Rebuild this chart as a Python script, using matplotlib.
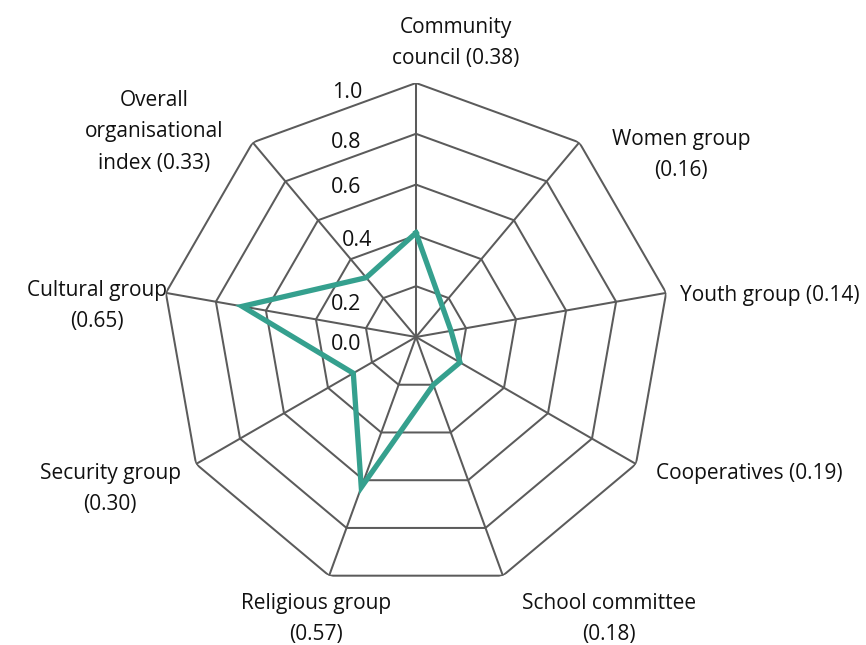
import numpy as np
import matplotlib
matplotlib.use("Agg")
import matplotlib.pyplot as plt

# ---------------- data ----------------
categories = ["Community\ncouncil (0.38)", "Women group\n(0.16)", "Youth group (0.14)",
              "Cooperatives (0.19)", "School committee\n(0.18)", "Religious group\n(0.57)",
              "Security group\n(0.30)", "Cultural group\n(0.65)",
              "Overall\norganisational\nindex (0.33)"]
# values as drawn in the picture
values = [0.41, 0.16, 0.14, 0.20, 0.20, 0.63, 0.285, 0.695, 0.305]
tick_values = [0.0, 0.2, 0.4, 0.6, 0.8, 1.0]
tick_labels = ["0.0", "0.2", "0.4", "0.6", "0.8", "1.0"]

# ---------------- layout ----------------
W, H = 866, 645
cx, cy, R = 416, 337, 254
plt.rcParams['font.family'] = ['Open Sans', 'DejaVu Sans']

fig = plt.figure(figsize=(W / 100, H / 100), dpi=100)
ax = fig.add_axes([(cx - R) / W, (H - cy - R) / H, 2 * R / W, 2 * R / H], projection='polar')
ax.set_theta_zero_location('N')
ax.set_theta_direction(-1)
ax.set_ylim(0, 1)
ax.grid(False)
ax.set_xticks([])
ax.set_yticks([])
ax.spines['polar'].set_visible(False)
ax.patch.set_alpha(0)

n = len(categories)
theta = np.arange(n) * 2 * np.pi / n
theta_c = np.append(theta, theta[0])

grid_col = '#5b5b5b'
for lvl in tick_values[1:]:
    ax.plot(theta_c, [lvl] * (n + 1), color=grid_col, lw=1.45, zorder=1)
for t in theta:
    ax.plot([t, t], [0, 1], color=grid_col, lw=1.45, zorder=1)

vals_c = values + values[:1]
ax.plot(theta_c, vals_c, color='#35a08e', lw=3.8, zorder=3, solid_joinstyle='miter')

# radial tick labels (pixel layout)
tick_px = [(346, 344), (346, 305), (357, 241), (346, 188), (346, 143), (347, 92)]
for lab, (px, py) in zip(tick_labels, tick_px):
    fig.text(px / W, 1 - py / H, lab, ha='center', va='center', fontsize=15.5, color='#111111')

# category labels (pixel layout: centre of block, alignment)
cat_px = [(456, 43, 'center'), (681, 155, 'center'), (680, 296, 'left'),
          (656, 474, 'left'), (609, 619, 'center'), (316, 619, 'center'),
          (110, 489, 'center'), (97, 306, 'center'), (154, 132, 'center')]
for lab, (px, py, ha) in zip(categories, cat_px):
    fig.text(px / W, 1 - py / H, lab, ha=ha, va='center', fontsize=15,
             color='#111111', linespacing=1.67, multialignment='center')

fig.savefig('out.png', dpi=100)
